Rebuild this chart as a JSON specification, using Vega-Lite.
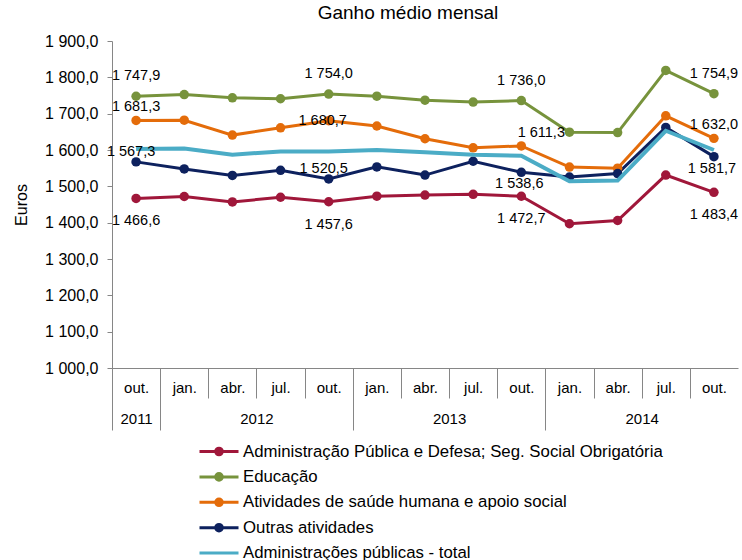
{
  "$schema": "https://vega.github.io/schema/vega-lite/v6.json",
  "width": 626,
  "height": 327,
  "autosize": {"type": "none"},
  "padding": {"left": 112, "top": 41, "right": 4, "bottom": 192},
  "title": {"text": "Ganho médio mensal", "fontSize": 19, "fontWeight": "normal", "font": "Liberation Sans", "color": "#000000", "anchor": "middle", "dx": -17, "offset": 10},
  "config": {
    "locale": {"number": {"decimal": ",", "thousands": " ", "grouping": [3], "currency": ["", " €"]}},
    "view": {"stroke": null},
    "font": "Liberation Sans",
    "axis": {"labelFont": "Liberation Sans", "titleFont": "Liberation Sans", "labelColor": "#000000", "titleColor": "#000000", "grid": false, "domainColor": "#868686", "tickColor": "#868686"}
  },
  "data": {"values": [
    {"i": 0, "serie": "Administração Pública e Defesa; Seg. Social Obrigatória", "v": 1466.6},
    {"i": 1, "serie": "Administração Pública e Defesa; Seg. Social Obrigatória", "v": 1472},
    {"i": 2, "serie": "Administração Pública e Defesa; Seg. Social Obrigatória", "v": 1457},
    {"i": 3, "serie": "Administração Pública e Defesa; Seg. Social Obrigatória", "v": 1470},
    {"i": 4, "serie": "Administração Pública e Defesa; Seg. Social Obrigatória", "v": 1457.6},
    {"i": 5, "serie": "Administração Pública e Defesa; Seg. Social Obrigatória", "v": 1473},
    {"i": 6, "serie": "Administração Pública e Defesa; Seg. Social Obrigatória", "v": 1476},
    {"i": 7, "serie": "Administração Pública e Defesa; Seg. Social Obrigatória", "v": 1478},
    {"i": 8, "serie": "Administração Pública e Defesa; Seg. Social Obrigatória", "v": 1472.7},
    {"i": 9, "serie": "Administração Pública e Defesa; Seg. Social Obrigatória", "v": 1397},
    {"i": 10, "serie": "Administração Pública e Defesa; Seg. Social Obrigatória", "v": 1406},
    {"i": 11, "serie": "Administração Pública e Defesa; Seg. Social Obrigatória", "v": 1531},
    {"i": 12, "serie": "Administração Pública e Defesa; Seg. Social Obrigatória", "v": 1483.4},
    {"i": 0, "serie": "Educação", "v": 1747.9},
    {"i": 1, "serie": "Educação", "v": 1752.6},
    {"i": 2, "serie": "Educação", "v": 1743.5},
    {"i": 3, "serie": "Educação", "v": 1741},
    {"i": 4, "serie": "Educação", "v": 1754.0},
    {"i": 5, "serie": "Educação", "v": 1748},
    {"i": 6, "serie": "Educação", "v": 1737},
    {"i": 7, "serie": "Educação", "v": 1732},
    {"i": 8, "serie": "Educação", "v": 1736.0},
    {"i": 9, "serie": "Educação", "v": 1649},
    {"i": 10, "serie": "Educação", "v": 1648},
    {"i": 11, "serie": "Educação", "v": 1819},
    {"i": 12, "serie": "Educação", "v": 1754.9},
    {"i": 0, "serie": "Atividades de saúde humana e apoio social", "v": 1681.3},
    {"i": 1, "serie": "Atividades de saúde humana e apoio social", "v": 1682},
    {"i": 2, "serie": "Atividades de saúde humana e apoio social", "v": 1641},
    {"i": 3, "serie": "Atividades de saúde humana e apoio social", "v": 1661},
    {"i": 4, "serie": "Atividades de saúde humana e apoio social", "v": 1680.7},
    {"i": 5, "serie": "Atividades de saúde humana e apoio social", "v": 1666},
    {"i": 6, "serie": "Atividades de saúde humana e apoio social", "v": 1631},
    {"i": 7, "serie": "Atividades de saúde humana e apoio social", "v": 1606},
    {"i": 8, "serie": "Atividades de saúde humana e apoio social", "v": 1611.3},
    {"i": 9, "serie": "Atividades de saúde humana e apoio social", "v": 1553},
    {"i": 10, "serie": "Atividades de saúde humana e apoio social", "v": 1550},
    {"i": 11, "serie": "Atividades de saúde humana e apoio social", "v": 1694},
    {"i": 12, "serie": "Atividades de saúde humana e apoio social", "v": 1632.0},
    {"i": 0, "serie": "Outras atividades", "v": 1567.3},
    {"i": 1, "serie": "Outras atividades", "v": 1548},
    {"i": 2, "serie": "Outras atividades", "v": 1530},
    {"i": 3, "serie": "Outras atividades", "v": 1544},
    {"i": 4, "serie": "Outras atividades", "v": 1520.5},
    {"i": 5, "serie": "Outras atividades", "v": 1553.5},
    {"i": 6, "serie": "Outras atividades", "v": 1531},
    {"i": 7, "serie": "Outras atividades", "v": 1569},
    {"i": 8, "serie": "Outras atividades", "v": 1538.6},
    {"i": 9, "serie": "Outras atividades", "v": 1525.7},
    {"i": 10, "serie": "Outras atividades", "v": 1535},
    {"i": 11, "serie": "Outras atividades", "v": 1662},
    {"i": 12, "serie": "Outras atividades", "v": 1581.7},
    {"i": 0, "serie": "Administrações públicas - total", "v": 1603},
    {"i": 1, "serie": "Administrações públicas - total", "v": 1604},
    {"i": 2, "serie": "Administrações públicas - total", "v": 1587},
    {"i": 3, "serie": "Administrações públicas - total", "v": 1596},
    {"i": 4, "serie": "Administrações públicas - total", "v": 1596},
    {"i": 5, "serie": "Administrações públicas - total", "v": 1600},
    {"i": 6, "serie": "Administrações públicas - total", "v": 1594},
    {"i": 7, "serie": "Administrações públicas - total", "v": 1587},
    {"i": 8, "serie": "Administrações públicas - total", "v": 1584},
    {"i": 9, "serie": "Administrações públicas - total", "v": 1514},
    {"i": 10, "serie": "Administrações públicas - total", "v": 1516},
    {"i": 11, "serie": "Administrações públicas - total", "v": 1653},
    {"i": 12, "serie": "Administrações públicas - total", "v": 1600}
  ]},
  "encoding": {
    "x": {"field": "i", "type": "quantitative", "scale": {"domain": [-0.5, 12.5], "nice": false, "zero": false}},
    "y": {"field": "v", "type": "quantitative", "scale": {"domain": [1000, 1900], "nice": false, "zero": false},
      "axis": {"values": [1000,1100,1200,1300,1400,1500,1600,1700,1800,1900], "tickCount": 10, "format": ",.1f", "tickSize": 5, "labelPadding": 9, "labelFontSize": 16, "labelOverlap": false, "labelFlush": false, "labelBaseline": "middle", "title": "Euros", "titleFontSize": 16, "titleFontWeight": "normal", "titlePadding": 15, "domain": true}}
  },
  "resolve": {"axis": {"x": "independent"}},
  "layer": [
    {
      "transform": [{"filter": "datum.serie !== 'Administrações públicas - total'"}],
      "mark": {"type": "line", "strokeWidth": 3, "point": {"filled": true, "size": 90, "opacity": 1}},
      "encoding": {
        "x": {"field": "i", "type": "quantitative", "axis": {"orient": "bottom", "values": [0,1,2,3,4,5,6,7,8,9,10,11,12], "labelExpr": "['out.','jan.','abr.','jul.','out.','jan.','abr.','jul.','out.','jan.','abr.','jul.','out.'][datum.value]", "ticks": false, "domain": true, "labelFontSize": 15, "labelPadding": 19, "labelBaseline": "middle", "labelFlush": false, "labelOverlap": false, "title": null}},
        "color": {"field": "serie", "type": "nominal", "scale": {"domain": ["Administração Pública e Defesa; Seg. Social Obrigatória", "Educação", "Atividades de saúde humana e apoio social", "Outras atividades", "Administrações públicas - total"], "range": ["#A0173A", "#77933C", "#E46C0A", "#0D215E", "#4BACC6"]},
          "legend": {"title": null, "orient": "none", "legendX": 95.5, "legendY": 399, "direction": "vertical", "labelFontSize": 16.8, "labelFont": "Liberation Sans", "labelColor": "#000000", "labelOffset": 12.5, "rowPadding": 4.4, "symbolSize": 400, "symbolStrokeWidth": 3,
            "symbolType": "M-1.95,0H1.95M-0.33,0A0.33,0.33 0 1,0 0.33,0A0.33,0.33 0 1,0 -0.33,0",
            "labelLimit": 600,
            "encode": {"symbols": {"update": {
              "fill": {"scale": "color", "field": "value"},
              "stroke": {"scale": "color", "field": "value"},
              "strokeWidth": {"value": 3},
              "opacity": {"value": 1},
              "shape": [{"test": "datum.value === 'Administrações públicas - total'", "value": "M-1.95,0H1.95"}, {"value": "M-1.95,0H1.95M-0.33,0A0.33,0.33 0 1,0 0.33,0A0.33,0.33 0 1,0 -0.33,0"}]
            }}}
          }}
      }
    },
    {
      "transform": [{"filter": "datum.serie === 'Administrações públicas - total'"}],
      "mark": {"type": "line", "strokeWidth": 4},
      "encoding": {
        "x": {"field": "i", "type": "quantitative", "axis": null},
        "color": {"field": "serie", "type": "nominal"}
      }
    },
    {
      "transform": [{"filter": "datum.serie === 'Educação' && datum.i % 4 === 0"}],
      "mark": {"type": "text", "fontSize": 14.5, "color": "#000000", "dy": -20},
      "encoding": {"x": {"field": "i", "type": "quantitative", "axis": null}, "text": {"field": "v", "type": "quantitative", "format": ",.1f"}}
    },
    {
      "transform": [{"filter": "datum.serie === 'Atividades de saúde humana e apoio social' && (datum.i === 0 || datum.i === 12)"}],
      "mark": {"type": "text", "fontSize": 14.5, "color": "#000000", "dy": -13},
      "encoding": {"x": {"field": "i", "type": "quantitative", "axis": null}, "text": {"field": "v", "type": "quantitative", "format": ",.1f"}}
    },
    {
      "transform": [{"filter": "datum.serie === 'Atividades de saúde humana e apoio social' && datum.i === 4"}],
      "mark": {"type": "text", "fontSize": 14.5, "color": "#000000", "dy": 0, "dx": -6},
      "encoding": {"x": {"field": "i", "type": "quantitative", "axis": null}, "text": {"field": "v", "type": "quantitative", "format": ",.1f"}}
    },
    {
      "transform": [{"filter": "datum.serie === 'Atividades de saúde humana e apoio social' && datum.i === 8"}],
      "mark": {"type": "text", "fontSize": 14.5, "color": "#000000", "dy": -13, "dx": 20},
      "encoding": {"x": {"field": "i", "type": "quantitative", "axis": null}, "text": {"field": "v", "type": "quantitative", "format": ",.1f"}}
    },
    {
      "transform": [{"filter": "datum.serie === 'Outras atividades' && (datum.i === 0 || datum.i === 4)"}],
      "mark": {"type": "text", "fontSize": 14.5, "color": "#000000", "dy": -10, "dx": -5},
      "encoding": {"x": {"field": "i", "type": "quantitative", "axis": null}, "text": {"field": "v", "type": "quantitative", "format": ",.1f"}}
    },
    {
      "transform": [{"filter": "datum.serie === 'Outras atividades' && (datum.i === 8 || datum.i === 12)"}],
      "mark": {"type": "text", "fontSize": 14.5, "color": "#000000", "dy": 12, "dx": -2},
      "encoding": {"x": {"field": "i", "type": "quantitative", "axis": null}, "text": {"field": "v", "type": "quantitative", "format": ",.1f"}}
    },
    {
      "transform": [{"filter": "datum.serie === 'Administração Pública e Defesa; Seg. Social Obrigatória' && datum.i % 4 === 0"}],
      "mark": {"type": "text", "fontSize": 14.5, "color": "#000000", "dy": 23},
      "encoding": {"x": {"field": "i", "type": "quantitative", "axis": null}, "text": {"field": "v", "type": "quantitative", "format": ",.1f"}}
    },
    {
      "mark": {"type": "point", "opacity": 0},
      "encoding": {"x": {"field": "i", "type": "quantitative", "axis": {"orient": "bottom", "values": [-0.5,0.5,1.5,2.5,3.5,4.5,5.5,6.5,7.5,8.5,9.5,10.5,11.5], "labels": false, "domain": false, "ticks": true, "tickSize": 30, "title": null}}}
    },
    {
      "mark": {"type": "point", "opacity": 0},
      "encoding": {"x": {"field": "i", "type": "quantitative", "axis": {"orient": "bottom", "values": [-0.5,0.5,4.5,8.5], "labels": false, "domain": false, "ticks": true, "tickSize": 62, "title": null}}}
    },
    {
      "mark": {"type": "point", "opacity": 0},
      "encoding": {"x": {"field": "i", "type": "quantitative", "axis": {"orient": "bottom", "values": [0, 2.5, 6.5, 10.5], "labelExpr": "datum.value === 0 ? '2011' : datum.value === 2.5 ? '2012' : datum.value === 6.5 ? '2013' : '2014'", "ticks": false, "domain": false, "labelFontSize": 15, "labelPadding": 50, "labelBaseline": "middle", "labelFlush": false, "labelOverlap": false, "title": null}}}
    }
  ]
}
